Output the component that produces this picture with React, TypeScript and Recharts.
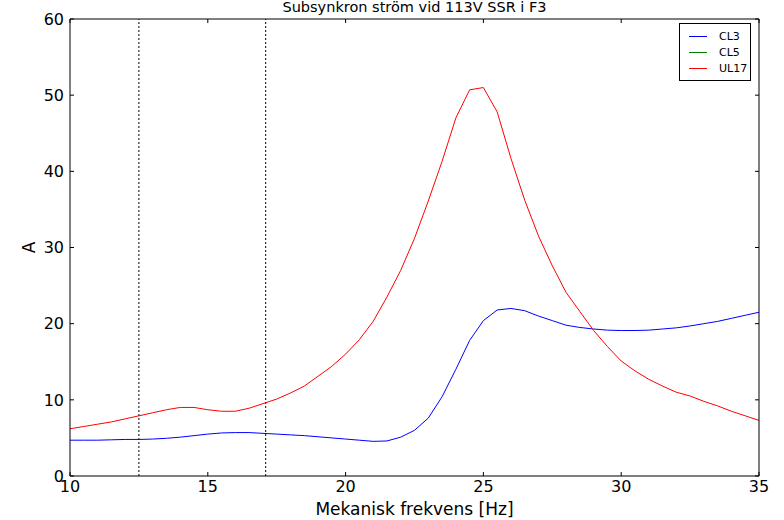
import { LineChart, Line, XAxis, YAxis, ReferenceLine, Legend } from "recharts";

const freqs = [
  10, 10.5, 11, 11.5, 12, 12.5, 13, 13.5, 14, 14.5, 15, 15.5, 16, 16.5, 17, 17.5, 18, 18.5, 19, 19.5,
  20, 20.5, 21, 21.5, 22, 22.5, 23, 23.5, 24, 24.5, 25, 25.5, 26, 26.5, 27, 27.5, 28, 28.5, 29, 29.5,
  30, 30.5, 31, 31.5, 32, 32.5, 33, 33.5, 34, 34.5, 35,
];

const cl3 = [
  4.7, 4.7, 4.7, 4.75, 4.8, 4.8, 4.85, 4.95, 5.1, 5.3, 5.5, 5.65, 5.7, 5.7, 5.6, 5.5, 5.4, 5.3, 5.15, 5.0,
  4.85, 4.7, 4.55, 4.6, 5.1, 6.0, 7.6, 10.4, 14.0, 17.8, 20.4, 21.8, 22.0, 21.7, 21.0, 20.4, 19.8, 19.5, 19.3, 19.15,
  19.1, 19.1, 19.15, 19.3, 19.45, 19.7, 20.0, 20.3, 20.7, 21.1, 21.5,
];

// CL5 has no visible trace in the reference, only a legend entry
const cl5: (number | null)[] = freqs.map(() => null);

const ul17 = [
  6.2, 6.5, 6.8, 7.1, 7.5, 7.9, 8.3, 8.7, 9.0, 9.0, 8.7, 8.5, 8.5, 8.9, 9.5, 10.1, 10.9, 11.8, 13.1, 14.4,
  16.0, 17.9, 20.3, 23.5, 27.0, 31.2, 36.1, 41.3, 47.0, 50.7, 51.0, 47.8, 41.7, 36.2, 31.5, 27.6, 24.1, 21.6, 19.1, 17.0,
  15.1, 13.8, 12.7, 11.8, 11.0, 10.5, 9.8, 9.2, 8.5, 7.9, 7.3,
];

const xTicks = [10, 15, 20, 25, 30, 35];
const yTicks = [0, 10, 20, 30, 40, 50, 60];
const markers = [12.5, 17.1];

const data = freqs.map((f, i) => ({ f, cl3: cl3[i], cl5: cl5[i], ul17: ul17[i] }));

const font = "'DejaVu Sans', sans-serif";

function LegendBox(props: any) {
  const items = props.payload || [];
  return (
    <div
      style={{
        border: "1px solid #000",
        background: "#fff",
        padding: "4px 0 4px 9px",
        fontFamily: font,
        fontSize: 11,
        color: "#000",
        boxSizing: "border-box",
        width: 72,
      }}
    >
      {items.map((it: any) => (
        <div key={it.value} style={{ display: "flex", alignItems: "center", height: 16 }}>
          <span style={{ display: "inline-block", width: 18, height: 0, borderTop: `1px solid ${it.color}` }} />
          <span style={{ marginLeft: 12 }}>{it.value}</span>
        </div>
      ))}
    </div>
  );
}

function YLabel(props: any) {
  const vb = props.viewBox || { x: 0, y: 0, width: 70, height: 0 };
  const x = vb.x + 29;
  const y = vb.y + vb.height / 2;
  return (
    <text
      x={x}
      y={y}
      transform={`rotate(-90, ${x}, ${y})`}
      textAnchor="middle"
      dominantBaseline="central"
      fontFamily={font}
      fontSize={17}
      fill="#000"
    >
      A
    </text>
  );
}

const NoLabel = () => <g />;

export default function App() {
  return (
    <div style={{ position: "absolute", left: 0, top: 0, background: "#fff" }}>
      <LineChart width={784} height={520} data={data} margin={{ top: 18, right: 24, left: 0, bottom: 0 }}>
        <XAxis
          dataKey="f"
          type="number"
          domain={[10, 35]}
          ticks={xTicks}
          allowDataOverflow
          height={44}
          stroke="#000"
          tickSize={-4}
          tickMargin={9}
          tick={{ fill: "#000", fontFamily: font, fontSize: 16 }}
          label={{
            value: "Mekanisk frekvens [Hz]",
            position: "insideBottom",
            offset: 5,
            fill: "#000",
            fontFamily: font,
            fontSize: 17,
          }}
        />
        <XAxis
          xAxisId="top"
          orientation="top"
          dataKey="f"
          type="number"
          domain={[10, 35]}
          ticks={xTicks}
          allowDataOverflow
          height={1}
          stroke="#000"
          tickSize={-4}
          tick={NoLabel}
          label={{
            value: "Subsynkron ström vid 113V SSR i F3",
            position: "top",
            offset: 6,
            fill: "#000",
            fontFamily: font,
            fontSize: 14.5,
          }}
        />
        <YAxis
          type="number"
          domain={[0, 60]}
          ticks={yTicks}
          allowDataOverflow
          width={70}
          stroke="#000"
          tickSize={-4}
          tickMargin={10}
          tick={{ fill: "#000", fontFamily: font, fontSize: 16 }}
          label={{ position: "insideLeft", content: YLabel }}
        />
        <YAxis
          yAxisId="right"
          orientation="right"
          type="number"
          domain={[0, 60]}
          ticks={yTicks}
          allowDataOverflow
          width={1}
          stroke="#000"
          tickSize={-4}
          tick={NoLabel}
        />
        {markers.map((m) => (
          <ReferenceLine key={m} x={m} stroke="#000" strokeDasharray="2 2" strokeWidth={1} />
        ))}
        <Line type="linear" dataKey="cl3" name="CL3" stroke="#0000ff" strokeWidth={1} dot={false} isAnimationActive={false} />
        <Line
          type="linear"
          dataKey="cl5"
          name="CL5"
          xAxisId="top"
          yAxisId="right"
          stroke="#008000"
          strokeWidth={1}
          dot={false}
          isAnimationActive={false}
        />
        <Line type="linear" dataKey="ul17" name="UL17" stroke="#ff0000" strokeWidth={1} dot={false} isAnimationActive={false} />
        <Legend
          layout="horizontal"
          verticalAlign="middle"
          align="center"
          content={LegendBox}
          wrapperStyle={{ position: "absolute", left: 679, top: 23, width: 72 }}
        />
      </LineChart>
    </div>
  );
}
